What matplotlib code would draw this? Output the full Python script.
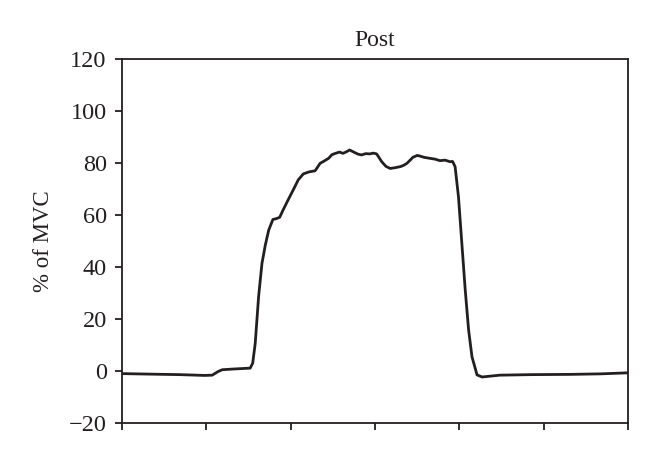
import matplotlib.pyplot as plt

# time axis (arbitrary units, no labels on the chart)
time = [0, 33, 69, 98, 107, 114, 119, 134, 152, 155, 158, 162, 166, 170, 174,
        179, 183, 187, 191, 197, 203, 209, 215, 222, 229, 235, 240, 245, 249,
        253, 258, 262, 266, 270, 276, 280, 284, 289, 294, 298, 302, 308, 313,
        318, 324, 330, 334, 338, 342, 345, 350, 353, 358, 365, 371, 377, 383,
        389, 392, 395, 399, 403, 407, 411, 415, 421, 427, 436, 448, 484, 531,
        567, 600]
mvc = [-1.0, -1.2, -1.4, -1.7, -1.6, -0.2, 0.5, 0.8, 1.1, 3.0, 10.6, 28.6,
       41.4, 48.5, 54.2, 58.3, 58.6, 59.1, 61.9, 65.8, 69.6, 73.5, 75.8, 76.6,
       77.0, 79.9, 80.8, 81.8, 83.2, 83.7, 84.2, 83.7, 84.3, 85.0, 84.0, 83.4,
       83.1, 83.6, 83.5, 83.8, 83.5, 80.5, 78.7, 77.9, 78.2, 78.6, 79.1, 79.9,
       81.2, 82.2, 82.9, 82.7, 82.2, 81.8, 81.5, 80.9, 81.1, 80.5, 80.6, 78.6,
       67.0, 49.1, 31.2, 15.8, 5.5, -1.5, -2.3, -2.0, -1.6, -1.4, -1.3, -1.1,
       -0.7]

y_ticks = [-20, 0, 20, 40, 60, 80, 100, 120]
x_ticks = [0, 100, 200, 300, 400, 500, 600]

plt.rcParams['font.family'] = ['Liberation Serif', 'DejaVu Serif']
ink = '#231f20'

fig = plt.figure(figsize=(6.6, 4.62), dpi=100)
ax = fig.add_axes([0.1848, 0.0844, 0.7667, 0.7879])

ax.plot(time, mvc, color=ink, linewidth=2.0)

ax.set_xlim(0, 600)
ax.set_ylim(-20, 120)
ax.set_xticks(x_ticks)
ax.set_xticklabels([])
ax.set_yticks(y_ticks)
ax.set_yticklabels([str(v).replace('-', '\u2212') for v in y_ticks])

for s in ax.spines.values():
    s.set_color(ink)
    s.set_linewidth(1.3)
ax.tick_params(axis='both', direction='out', length=5, width=1.3, color=ink,
               labelsize=17.5, labelcolor=ink, pad=6)

ax.set_ylabel('% of MVC', fontsize=16.5, color=ink, labelpad=11)
ax.set_title('Post', fontsize=17, color=ink, pad=9)

fig.savefig('out.png', dpi=100)
